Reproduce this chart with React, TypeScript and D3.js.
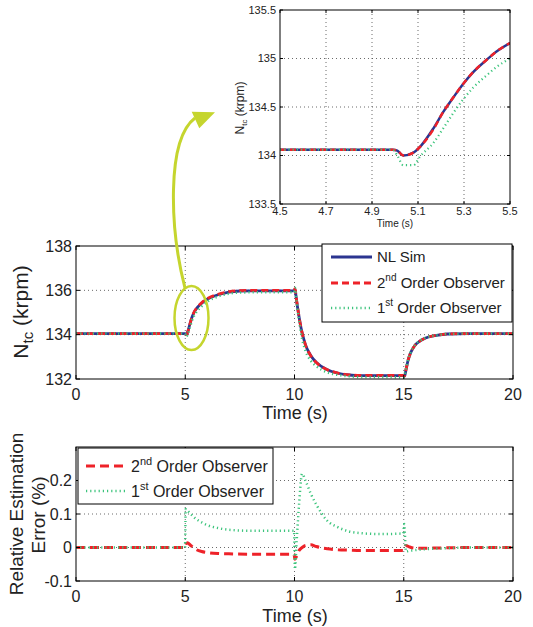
import * as d3 from 'd3';

// main panel: turbocharger speed (krpm) vs time (s)
const mainTime = [0, 4.99, 5.04, 5.1, 5.2, 5.3, 5.4, 5.5, 5.75, 6, 6.5, 7, 7.5, 8, 9, 9.98, 10.02, 10.1, 10.2, 10.3, 10.5, 10.75, 11, 11.5, 12, 12.5, 13, 14, 14.98, 15.04, 15.1, 15.2, 15.3, 15.5, 15.75, 16, 16.5, 17, 18, 20];
const mainNlSim = [134.05, 134.05, 134.0, 134.09, 134.43, 134.76, 135.0, 135.16, 135.42, 135.6, 135.8, 135.92, 135.97, 135.98, 135.98, 135.98, 136.05, 135.5, 134.85, 134.3, 133.55, 133.05, 132.75, 132.42, 132.26, 132.18, 132.15, 132.15, 132.15, 132.13, 132.4, 132.85, 133.15, 133.5, 133.72, 133.85, 133.97, 134.03, 134.05, 134.05];
const main2nd = [134.05, 134.05, 134.0, 134.08, 134.43, 134.76, 135.01, 135.17, 135.44, 135.62, 135.82, 135.94, 135.99, 136.0, 136.0, 136.0, 136.08, 135.52, 134.86, 134.3, 133.54, 133.04, 132.74, 132.42, 132.27, 132.19, 132.16, 132.16, 132.16, 132.15, 132.41, 132.85, 133.15, 133.5, 133.72, 133.85, 133.97, 134.03, 134.05, 134.05];
const main1st = [134.05, 134.05, 133.9, 133.99, 134.28, 134.61, 134.84, 135.0, 135.28, 135.48, 135.72, 135.85, 135.9, 135.91, 135.91, 135.91, 136.12, 135.45, 134.7, 134.05, 133.28, 132.82, 132.58, 132.3, 132.18, 132.12, 132.09, 132.09, 132.08, 132.2, 132.45, 132.87, 133.17, 133.51, 133.73, 133.86, 133.97, 134.03, 134.05, 134.05];

// inset: zoom on the step at t = 5 s
const zoomTime = [4.5, 4.99, 5.01, 5.036, 5.08, 5.109, 5.167, 5.21, 5.254, 5.297, 5.34, 5.4, 5.44, 5.5];
const zoomNlSim = [134.06, 134.06, 134.05, 134.0, 134.03, 134.09, 134.28, 134.45, 134.6, 134.74, 134.86, 134.99, 135.07, 135.16];
const zoom2nd = [134.06, 134.06, 134.05, 134.0, 134.03, 134.09, 134.27, 134.45, 134.6, 134.74, 134.86, 134.99, 135.07, 135.16];
const zoom1st = [134.06, 134.06, 134.0, 133.9, 133.9, 133.99, 134.13, 134.28, 134.44, 134.58, 134.7, 134.83, 134.91, 135.0];

// bottom panel: relative estimation error (%)
const errTime = [0, 4.99, 5.02, 5.1, 5.25, 5.5, 5.75, 6, 6.5, 7, 8, 9, 9.98, 10.02, 10.1, 10.2, 10.35, 10.5, 10.75, 11, 11.5, 12, 12.5, 13, 14, 14.98, 15.02, 15.1, 15.25, 15.5, 16, 17, 18, 20];
const err2nd = [0, 0, 0.008, 0.014, 0.006, -0.006, -0.012, -0.015, -0.018, -0.019, -0.02, -0.02, -0.02, -0.035, -0.025, -0.01, 0.0, 0.006, 0.008, 0.003, -0.004, -0.007, -0.008, -0.009, -0.009, -0.009, -0.002, 0.006, 0.002, -0.002, -0.002, -0.001, 0, 0];
const err1st = [0, 0, 0.115, 0.11, 0.1, 0.085, 0.075, 0.067, 0.058, 0.053, 0.05, 0.05, 0.05, -0.065, 0.02, 0.12, 0.22, 0.2, 0.16, 0.128, 0.08, 0.06, 0.048, 0.043, 0.04, 0.042, 0.07, -0.012, -0.01, -0.008, -0.005, -0.002, 0, 0];

const mainXTicks = [0, 5, 10, 15, 20];
const mainYTicks = [132, 134, 136, 138];
const zoomXTicks = [4.5, 4.7, 4.9, 5.1, 5.3, 5.5];
const zoomYTicks = [133.5, 134, 134.5, 135, 135.5];
const errYTicks = [-0.1, 0, 0.1, 0.2];

const NAVY = '#2b3590';
const RED = '#ee2229';
const GREEN = '#3cc47c';
const LIME = '#c5d52e';
const FONT = '"Liberation Sans", Arial, Helvetica, sans-serif';

type Series = { t: number[]; v: number[]; color: string; width: number; dash?: string };

function Panel({ id, box, xDomain, yDomain, xTicks, yTicks, series, tickLen, fontSize, xLabelDy }: {
  id: string; box: [number, number, number, number]; xDomain: [number, number]; yDomain: [number, number];
  xTicks: number[]; yTicks: number[]; series: Series[]; tickLen: number; fontSize: number; xLabelDy: number;
}) {
  const [x0, y0, x1, y1] = box;
  const x = d3.scaleLinear().domain(xDomain).range([x0, x1]);
  const y = d3.scaleLinear().domain(yDomain).range([y1, y0]);
  const inner = (ticks: number[], dom: [number, number]) => ticks.filter(t => t > dom[0] && t < dom[1]);
  return (
    <g>
      <defs>
        <clipPath id={id}><rect x={x0} y={y0} width={x1 - x0} height={y1 - y0} /></clipPath>
      </defs>
      <rect x={x0} y={y0} width={x1 - x0} height={y1 - y0} fill="#fff" />
      {inner(xTicks, xDomain).map(t => (
        <line key={'gx' + t} x1={x(t)} x2={x(t)} y1={y0} y2={y1} stroke="#444" strokeWidth={0.8} strokeDasharray="1,3" />
      ))}
      {inner(yTicks, yDomain).map(t => (
        <line key={'gy' + t} x1={x0} x2={x1} y1={y(t)} y2={y(t)} stroke="#444" strokeWidth={0.8} strokeDasharray="1,3" />
      ))}
      <g clipPath={`url(#${id})`}>
        {series.map((s, i) => {
          const pts = s.t.map((t, k) => [t, s.v[k]] as [number, number]);
          const path = d3.line<[number, number]>().x(d => x(d[0])).y(d => y(d[1])).curve(d3.curveMonotoneX)(pts) || '';
          return <path key={i} d={path} fill="none" stroke={s.color} strokeWidth={s.width} strokeDasharray={s.dash} />;
        })}
      </g>
      {xTicks.map(t => (
        <g key={'tx' + t}>
          <line x1={x(t)} x2={x(t)} y1={y1} y2={y1 - tickLen} stroke="#000" />
          <line x1={x(t)} x2={x(t)} y1={y0} y2={y0 + tickLen} stroke="#000" />
          <text x={x(t)} y={y1 + xLabelDy} textAnchor="middle" fontSize={fontSize} fill="#222">{String(t)}</text>
        </g>
      ))}
      {yTicks.map(t => (
        <g key={'ty' + t}>
          <line x1={x0} x2={x0 + tickLen} y1={y(t)} y2={y(t)} stroke="#000" />
          <line x1={x1} x2={x1 - tickLen} y1={y(t)} y2={y(t)} stroke="#000" />
          <text x={x0 - 4} y={y(t)} dy="0.36em" textAnchor="end" fontSize={fontSize} fill="#222">{String(t)}</text>
        </g>
      ))}
      <rect x={x0} y={y0} width={x1 - x0} height={y1 - y0} fill="none" stroke="#000" strokeWidth={1} />
    </g>
  );
}

export default function App() {
  const nl = (t: number[], v: number[], w: number): Series => ({ t, v, color: NAVY, width: w });
  const o2 = (t: number[], v: number[], w: number, dash: string): Series => ({ t, v, color: RED, width: w, dash });
  const o1 = (t: number[], v: number[], w: number): Series => ({ t, v, color: GREEN, width: w, dash: '1.2,3' });

  return (
    <svg width={533} height={627} style={{ position: 'absolute', left: 0, top: 0, background: '#fff', fontFamily: FONT }}>
      {/* inset */}
      <Panel id="clipZoom" box={[280, 10, 510, 204]} xDomain={[4.5, 5.5]} yDomain={[133.5, 135.5]}
        xTicks={zoomXTicks} yTicks={zoomYTicks} tickLen={3} fontSize={11} xLabelDy={11}
        series={[nl(zoomTime, zoomNlSim, 2.5), o2(zoomTime, zoom2nd, 2.5, '6,4'), o1(zoomTime, zoom1st, 2.2)]} />
      <text x={395} y={227} textAnchor="middle" fontSize={10} fill="#222">Time (s)</text>
      <text transform="translate(244,108) rotate(-90)" textAnchor="middle" fontSize={12} fill="#222">
        N<tspan fontSize={8} dy={3}>tc</tspan><tspan dy={-3}> (krpm)</tspan>
      </text>

      {/* main */}
      <Panel id="clipMain" box={[76, 246, 513, 379]} xDomain={[0, 20]} yDomain={[132, 138]}
        xTicks={mainXTicks} yTicks={mainYTicks} tickLen={4} fontSize={16} xLabelDy={21}
        series={[nl(mainTime, mainNlSim, 2.8), o2(mainTime, main2nd, 2.8, '7,4'), o1(mainTime, main1st, 2.5)]} />
      <text x={295} y={419} textAnchor="middle" fontSize={18} fill="#222">Time (s)</text>
      <text transform="translate(28,312) rotate(-90)" textAnchor="middle" fontSize={21} fill="#222">
        N<tspan fontSize={15} dy={5}>tc</tspan><tspan dy={-5}> (krpm)</tspan>
      </text>
      <g>
        <rect x={322} y={244} width={190} height={78} fill="#fff" stroke="#000" />
        <line x1={331} x2={372} y1={257} y2={257} stroke={NAVY} strokeWidth={2.8} />
        <text x={377} y={257} dy="0.36em" fontSize={15} fill="#222">NL Sim</text>
        <line x1={331} x2={372} y1={283} y2={283} stroke={RED} strokeWidth={2.8} strokeDasharray="7,4" />
        <text x={377} y={283} dy="0.36em" fontSize={15} fill="#222">2<tspan fontSize={10} dy={-7}>nd</tspan><tspan dy={7}> Order Observer</tspan></text>
        <line x1={331} x2={372} y1={308} y2={308} stroke={GREEN} strokeWidth={2.5} strokeDasharray="1.2,3" />
        <text x={377} y={308} dy="0.36em" fontSize={15} fill="#222">1<tspan fontSize={10} dy={-7}>st</tspan><tspan dy={7}> Order Observer</tspan></text>
      </g>

      {/* bottom */}
      <Panel id="clipErr" box={[76, 447, 513, 581]} xDomain={[0, 20]} yDomain={[-0.1, 0.3]}
        xTicks={mainXTicks} yTicks={errYTicks} tickLen={4} fontSize={16} xLabelDy={21}
        series={[o2(errTime, err2nd, 3, '9,5'), o1(errTime, err1st, 2.5)]} />
      <text x={295} y={622} textAnchor="middle" fontSize={18} fill="#222">Time (s)</text>
      <text transform="translate(23,514) rotate(-90)" textAnchor="middle" fontSize={19} fill="#222">Relative Estimation</text>
      <text transform="translate(45,515) rotate(-90)" textAnchor="middle" fontSize={19} fill="#222">Error (%)</text>
      <g>
        <rect x={78} y={448} width={195} height={56} fill="#fff" stroke="#000" />
        <line x1={86} x2={128} y1={466} y2={466} stroke={RED} strokeWidth={3} strokeDasharray="9,5" />
        <text x={131} y={466} dy="0.36em" fontSize={16} fill="#222">2<tspan fontSize={11} dy={-7}>nd</tspan><tspan dy={7}> Order Observer</tspan></text>
        <line x1={86} x2={128} y1={491} y2={491} stroke={GREEN} strokeWidth={2.5} strokeDasharray="1.2,3" />
        <text x={131} y={491} dy="0.36em" fontSize={16} fill="#222">1<tspan fontSize={11} dy={-7}>st</tspan><tspan dy={7}> Order Observer</tspan></text>
      </g>

      {/* callout: ellipse around the step and curved arrow to the inset */}
      <ellipse cx={191.5} cy={318} rx={17} ry={32} fill="none" stroke={LIME} strokeWidth={2.5} />
      <path d="M185,288 C170,230 166,140 195,118" fill="none" stroke={LIME} strokeWidth={3} />
      <path d="M191.7,111.7 L215,112.3 L199.3,128.3 Z" fill={LIME} />
    </svg>
  );
}
